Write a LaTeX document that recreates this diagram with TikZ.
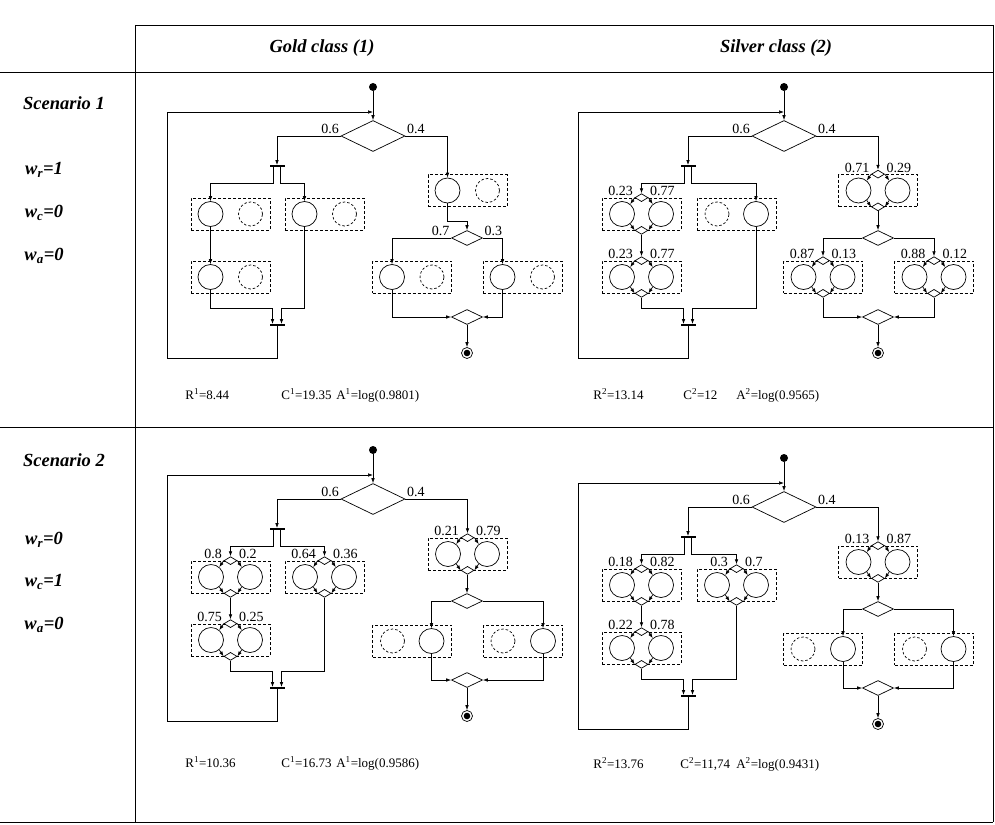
\documentclass[tikz,border=0pt]{standalone}
\usepackage{fontspec}
\setmainfont{Liberation Serif}
\usetikzlibrary{shapes.geometric,arrows.meta,calc,positioning}

% one task box: solid task at offset #3, unused alternative opposite
\newcommand{\onebox}[3]{%
  \node[frame] (#1) at (#2) {};
  \node[task, alias=#1-out] (#1-in) at ($(#1)+(#3,0)$) {};
  \node[ghost] (#1-alt) at ($(#1)-(#3,0)$) {};
}
% two alternative tasks with probabilities #3 and #4
\newcommand{\twobox}[4]{%
  \node[frame] (#1) at (#2) {};
  \node[task] (#1-l) at ($(#1)+(-19.5,0)$) {};
  \node[task] (#1-r) at ($(#1)+(19.5,0)$) {};
  \node[gate] (#1-in) at (#1.north) {};
  \node[gate] (#1-out) at (#1.south) {};
  \draw[paths] (#1-in.west) -- (#1-l.50);
  \draw[paths] (#1-in.east) -- (#1-r.130);
  \draw[paths] (#1-l.-50) -- (#1-out.west);
  \draw[paths] (#1-r.-130) -- (#1-out.east);
  \node[prob, anchor=south east] at (#1-in.west) {#3};
  \node[prob, anchor=south west] at (#1-in.east) {#4};
}
% skeleton of a workflow, boxes A1, A2, B, C, D, E drawn before
\newcommand{\workflow}[1]{%
  \node[start] (#1-start) at (0,-49) {};
  \node[choice] (#1-dec) at (0,0) {};
  \node[prob, anchor=south east] at (#1-dec.west) {0.6};
  \node[prob, anchor=south west] at (#1-dec.east) {0.4};
  \coordinate (#1-loop) at (0,-24);
  \node[bar] (#1-fork) at (-96,30) {};
  \node[bar] (#1-join) at (-96,189) {};
  \node[gate big] (#1-split) at (94,102) {};
  \node[gate big] (#1-merge) at (94,181) {};
  \node[stop] (#1-end) at (94,217) {};
  % entry and loop back
  \draw[paths] (#1-start) -- (#1-dec.north);
  \draw[paths] (#1-join.south) -- ++(0,32) -| (-206,-24) -- (#1-loop);
  % parallel branch
  \draw[paths] (#1-dec.west) -| (#1-fork.north);
  \draw[paths] ([xshift=-3.5pt]#1-fork.south) -- ++(0,16) -| (#1-A1-in.north);
  \draw[paths] ([xshift=3.5pt]#1-fork.south) -- ++(0,16) -| (#1-B-in.north);
  \draw[paths] (#1-A1-out.south) -- (#1-A2-in.north);
  \draw[paths] (#1-A2-out.south) |- ([xshift=-4.5pt,yshift=16pt]#1-join.north) -- ([xshift=-4.5pt]#1-join.north);
  \draw[paths] (#1-B-out.south) |- ([xshift=4.5pt,yshift=16pt]#1-join.north) -- ([xshift=4.5pt]#1-join.north);
  % exclusive branch
  \draw[paths] (#1-dec.east) -| (#1-C-in.north);
  \draw[paths] (#1-C-out.south) |- ([yshift=9pt]#1-split.north) -- (#1-split.north);
  \draw[paths] (#1-split.west) -| (#1-D-in.north);
  \draw[paths] (#1-split.east) -| (#1-E-in.north);
  \draw[paths] (#1-D-out.south) |- (#1-merge.west);
  \draw[paths] (#1-E-out.south) |- (#1-merge.east);
  \draw[paths] (#1-merge.south) -- (#1-end);
}

\begin{document}
\begin{tikzpicture}[x=1pt, y=-1pt, line width=0.7pt,
    frame/.style={rectangle, draw, dash pattern=on 3pt off 2pt, minimum width=79pt, minimum height=32pt, inner sep=0pt},
    task/.style={circle, draw, minimum size=25pt, inner sep=0pt},
    ghost/.style={circle, draw, dash pattern=on 2.5pt off 2pt, minimum size=24pt, inner sep=0pt},
    gate/.style={diamond, draw, fill=white, minimum width=13pt, minimum height=8pt, inner sep=0pt},
    gate big/.style={diamond, draw, fill=white, minimum width=31pt, minimum height=15pt, inner sep=0pt},
    choice/.style={diamond, draw, minimum width=64pt, minimum height=31pt, inner sep=0pt},
    bar/.style={rectangle, fill=black, minimum width=15pt, minimum height=1.2pt, inner sep=0pt},
    start/.style={circle, fill=black, minimum size=8pt, inner sep=0pt},
    stop/.style={circle, draw, minimum size=11pt, inner sep=0pt, path picture={\fill (path picture bounding box.center) circle (3.3pt);}},
    paths/.style={-{Latex[length=5pt,width=3.6pt]}},
    prob/.style={inner sep=1.5pt, font=\fontsize{14}{16}\selectfont},
    score/.style={anchor=base west, inner sep=0pt, font=\fontsize{13}{16}\selectfont},
    head/.style={font=\fontsize{18.5}{22}\selectfont\bfseries\itshape},
    grid/.style={line width=0.8pt}
  ]
  \useasboundingbox (0,0) rectangle (995,824);

  % Table
  \draw[grid] (135,25) -- (993,25);
  \draw[grid] (0,72) -- (993,72);
  \draw[grid] (0,427) -- (993,427);
  \draw[grid] (0,822) -- (993,822);
  \draw[grid] (135,25) -- (135,822);
  \draw[grid] (993,25) -- (993,822);

  % Headers
  \node[head] (gold) at (322,48) {Gold class (1)};
  \node[head] (silver) at (776,48) {Silver class (2)};
  \node[head] (sc1) at (64,103) {Scenario 1};
  \node[head] (wr1) at (44,170) {w\textsubscript{r}=1};
  \node[head] (wc1) at (44,213) {w\textsubscript{c}=0};
  \node[head] (wa1) at (44,256) {w\textsubscript{a}=0};
  \node[head] (sc2) at (64,460) {Scenario 2};
  \node[head] (wr2) at (44,540) {w\textsubscript{r}=0};
  \node[head] (wc2) at (44,582) {w\textsubscript{c}=1};
  \node[head] (wa2) at (44,625) {w\textsubscript{a}=0};

  % Scenario 1, gold
  \begin{scope}[shift={(373,136)}]
    \onebox{g1-A1}{-142.5,78}{-20}
    \onebox{g1-A2}{-142.5,141}{-20}
    \onebox{g1-B}{-48.5,78}{-20}
    \onebox{g1-C}{94.5,54.5}{-20}
    \onebox{g1-D}{39,141}{-20}
    \onebox{g1-E}{149.5,141}{-20}
    \workflow{g1}
    \node[prob, anchor=south east] at (g1-split.west) {0.7};
    \node[prob, anchor=south west] at (g1-split.east) {0.3};
  \end{scope}

  % Scenario 1, silver
  \begin{scope}[shift={(784,136)}]
    \twobox{s1-A1}{-142.5,78}{0.23}{0.77}
    \twobox{s1-A2}{-142.5,141}{0.23}{0.77}
    \onebox{s1-B}{-47.5,78}{19.5}
    \twobox{s1-C}{94,54.5}{0.71}{0.29}
    \twobox{s1-D}{39,141}{0.87}{0.13}
    \twobox{s1-E}{150,141}{0.88}{0.12}
    \workflow{s1}
  \end{scope}

  % Scenario 2, gold
  \begin{scope}[shift={(373,499)}]
    \twobox{g2-A1}{-142.5,78}{0.8}{0.2}
    \twobox{g2-A2}{-142.5,141}{0.75}{0.25}
    \twobox{g2-B}{-48.5,78}{0.64}{0.36}
    \twobox{g2-C}{94.5,55}{0.21}{0.79}
    \onebox{g2-D}{39,142}{19.5}
    \onebox{g2-E}{150,142}{20}
    \workflow{g2}
  \end{scope}

  % Scenario 2, silver
  \begin{scope}[shift={(784,507)}]
    \twobox{s2-A1}{-142.5,78}{0.18}{0.82}
    \twobox{s2-A2}{-142.5,141}{0.22}{0.78}
    \twobox{s2-B}{-47.5,78}{0.3}{0.7}
    \twobox{s2-C}{94,55}{0.13}{0.87}
    \onebox{s2-D}{39,142}{20}
    \onebox{s2-E}{150,142}{19.5}
    \workflow{s2}
  \end{scope}

  % Scores
  \node[score] (r1g) at (185,399) {R\textsuperscript{1}=8.44};
  \node[score] (c1g) at (281,399) {C\textsuperscript{1}=19.35};
  \node[score] (a1g) at (336,399) {A\textsuperscript{1}=log(0.9801)};
  \node[score] (r1s) at (593,399) {R\textsuperscript{2}=13.14};
  \node[score] (c1s) at (683,399) {C\textsuperscript{2}=12};
  \node[score] (a1s) at (736,399) {A\textsuperscript{2}=log(0.9565)};
  \node[score] (r2g) at (185,767) {R\textsuperscript{1}=10.36};
  \node[score] (c2g) at (281,767) {C\textsuperscript{1}=16.73};
  \node[score] (a2g) at (336,767) {A\textsuperscript{1}=log(0.9586)};
  \node[score] (r2s) at (593,768) {R\textsuperscript{2}=13.76};
  \node[score] (c2s) at (680,768) {C\textsuperscript{2}=11,74};
  \node[score] (a2s) at (736,768) {A\textsuperscript{2}=log(0.9431)};
\end{tikzpicture}
\end{document}
